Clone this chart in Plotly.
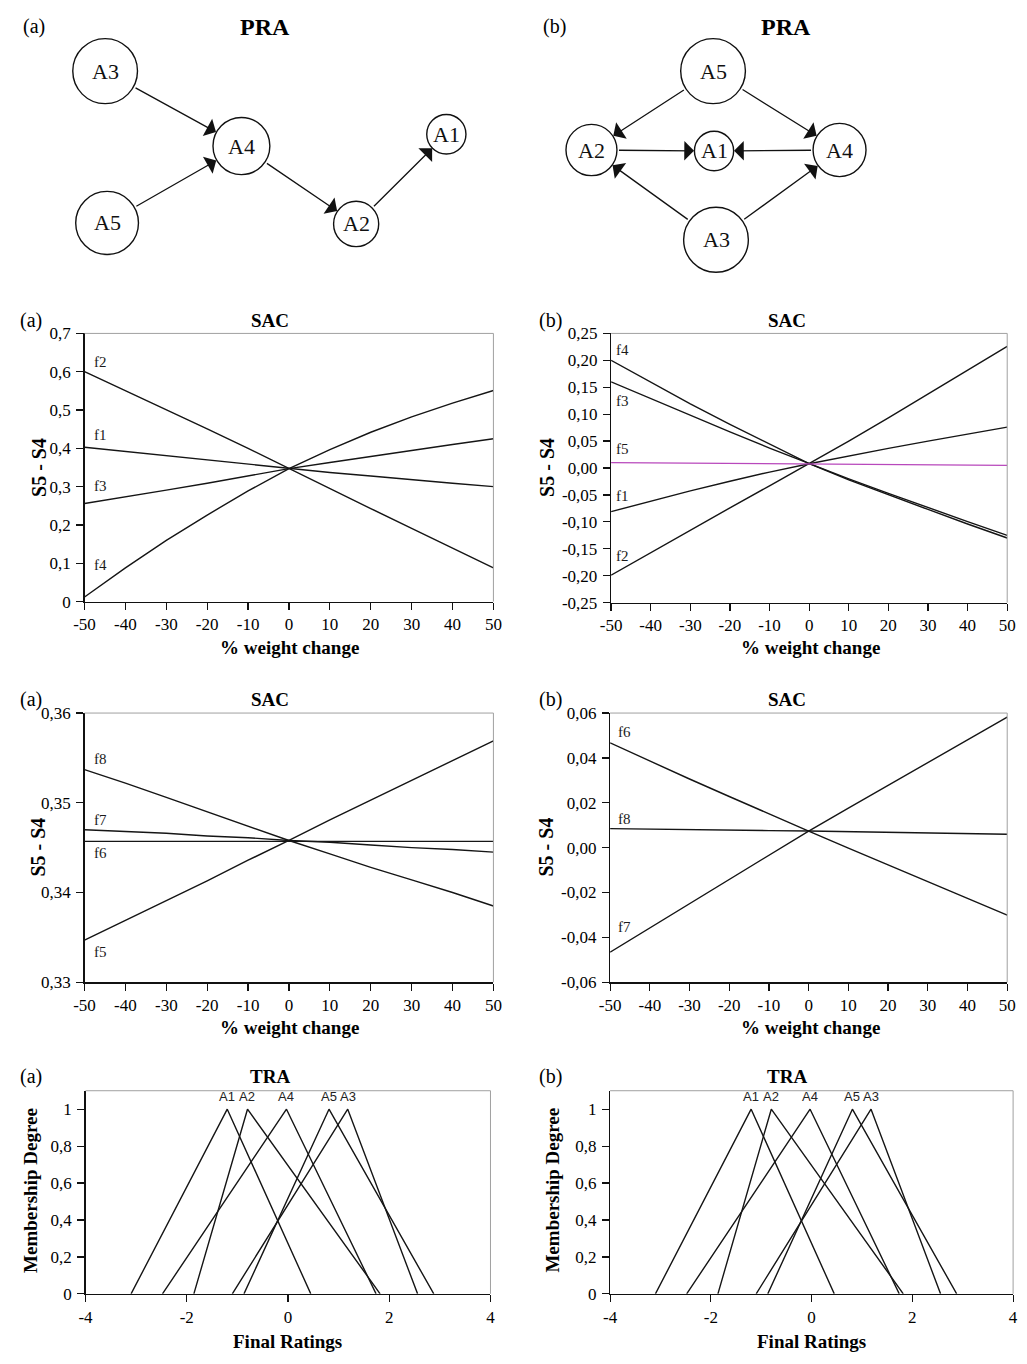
import plotly.graph_objects as go

W, H = 1027, 1364
SERIF = "Liberation Serif, Times New Roman, serif"
SANS = "Liberation Sans, Arial, sans-serif"
INK = "#151515"
MAGENTA = "#b848bc"

# ------------------------------------------------------------------ data
# PRA graphs (node layout of the precedence diagrams, in picture pixels)
pra_a_nodes = ["A3", "A4", "A5", "A2", "A1"]
pra_a_x = [96, 235, 98, 352, 444]
pra_a_y = [63, 139, 217, 218, 127]
pra_a_r = [33, 29, 32, 23, 20]
pra_a_edges = [("A3", "A4"), ("A5", "A4"), ("A4", "A2"), ("A2", "A1")]

pra_b_nodes = ["A5", "A2", "A1", "A4", "A3"]
pra_b_x = [716, 592, 717, 845, 719]
pra_b_y = [63, 143, 144, 143, 234]
pra_b_r = [33, 26, 20, 27, 33]
pra_b_edges = [("A5", "A2"), ("A5", "A4"), ("A2", "A1"), ("A4", "A1"),
               ("A3", "A2"), ("A3", "A4")]

# SAC sensitivity curves
weight_change = [-50, -40, -30, -20, -10, 0, 10, 20, 30, 40, 50]
weight_ticks = [-50, -40, -30, -20, -10, 0, 10, 20, 30, 40, 50]
weight_ticktext = ["-50", "-40", "-30", "-20", "-10", "0", "10", "20", "30", "40", "50"]

sac1a_f1 = [0.403, 0.392, 0.380, 0.369, 0.358, 0.347, 0.337, 0.328, 0.318, 0.309, 0.300]
sac1a_f2 = [0.600, 0.551, 0.501, 0.451, 0.400, 0.347, 0.295, 0.243, 0.191, 0.139, 0.088]
sac1a_f3 = [0.256, 0.273, 0.291, 0.309, 0.328, 0.347, 0.363, 0.379, 0.394, 0.410, 0.425]
sac1a_f4 = [0.012, 0.088, 0.160, 0.226, 0.289, 0.347, 0.397, 0.442, 0.482, 0.518, 0.551]
sac1a_ticks = [0, 0.1, 0.2, 0.3, 0.4, 0.5, 0.6, 0.7]
sac1a_ticktext = ["0", "0,1", "0,2", "0,3", "0,4", "0,5", "0,6", "0,7"]

sac1b_f1 = [-0.081, -0.0615, -0.0425, -0.0245, -0.0075, 0.008, 0.0225, 0.0365, 0.050, 0.063, 0.076]
sac1b_f2 = [-0.199, -0.157, -0.116, -0.074, -0.033, 0.008, 0.050, 0.093, 0.137, 0.181, 0.226]
sac1b_f3 = [0.160, 0.1285, 0.0975, 0.067, 0.037, 0.008, -0.020, -0.047, -0.0735, -0.0995, -0.125]
sac1b_f4 = [0.200, 0.159, 0.119, 0.081, 0.044, 0.008, -0.022, -0.050, -0.077, -0.104, -0.130]
sac1b_f5 = [0.010, 0.0095, 0.009, 0.0085, 0.008, 0.0078, 0.0072, 0.0068, 0.0062, 0.0057, 0.005]
sac1b_ticks = [-0.25, -0.2, -0.15, -0.1, -0.05, 0, 0.05, 0.1, 0.15, 0.2, 0.25]
sac1b_ticktext = ["-0,25", "-0,20", "-0,15", "-0,10", "-0,05", "0,00",
                  "0,05", "0,10", "0,15", "0,20", "0,25"]

sac2a_f5 = [0.3347, 0.3369, 0.3391, 0.3413, 0.3436, 0.3458, 0.3481, 0.3503, 0.3525, 0.3547, 0.3569]
sac2a_f6 = [0.3457, 0.3457, 0.3457, 0.3457, 0.3457, 0.3457, 0.3457, 0.3457, 0.3457, 0.3457, 0.3457]
sac2a_f7 = [0.3470, 0.3468, 0.3466, 0.3463, 0.3461, 0.3458, 0.3456, 0.3453, 0.3450, 0.3448, 0.3445]
sac2a_f8 = [0.3537, 0.3522, 0.3506, 0.3490, 0.3474, 0.3458, 0.3443, 0.3428, 0.3414, 0.3400, 0.3385]
sac2a_ticks = [0.33, 0.34, 0.35, 0.36]
sac2a_ticktext = ["0,33", "0,34", "0,35", "0,36"]

sac2b_f6 = [0.0467, 0.0386, 0.0306, 0.0228, 0.0150, 0.0074, -0.0002, -0.0077, -0.0153, -0.0227, -0.0301]
sac2b_f7 = [-0.0466, -0.0358, -0.0250, -0.0142, -0.0034, 0.0074, 0.0176, 0.0278, 0.0380, 0.0481, 0.0582]
sac2b_f8 = [0.0085, 0.0082, 0.0080, 0.0078, 0.0076, 0.0074, 0.0071, 0.0068, 0.0065, 0.0062, 0.0060]
sac2b_ticks = [-0.06, -0.04, -0.02, 0, 0.02, 0.04, 0.06]
sac2b_ticktext = ["-0,06", "-0,04", "-0,02", "0,00", "0,02", "0,04", "0,06"]

# TRA triangular fuzzy final ratings
tra_names = ["A1", "A2", "A4", "A5", "A3"]
tra_low = [-3.10, -1.86, -2.48, -0.87, -1.10]
tra_peak = [-1.20, -0.80, -0.03, 0.81, 1.18]
tra_high = [0.45, 1.82, 1.74, 2.88, 2.56]
tra_membership = [0, 1, 0]
tra_xticks = [-4, -2, 0, 2, 4]
tra_xticktext = ["-4", "-2", "0", "2", "4"]
tra_yticks = [0, 0.2, 0.4, 0.6, 0.8, 1.0]
tra_yticktext = ["0", "0,2", "0,4", "0,6", "0,8", "1"]

# ------------------------------------------------------------------ layout helpers
def dx(l, r):
    return [l / W, r / W]

def dy(t, b):
    return [1 - b / H, 1 - t / H]

def px(x):
    return x / W

def py(y):
    return 1 - y / H

fig = go.Figure()
annotations = []
shapes = []
layout = dict(width=W, height=H, margin=dict(l=0, r=0, t=0, b=0),
              paper_bgcolor="white", plot_bgcolor="white", showlegend=False)

TICKFONT = dict(family=SERIF, size=17, color="#000")

# panel boxes (pixels): id, x-left, x-right, y-top, y-bottom
panels = {
    1: (75, 492, 329, 601),
    2: (612, 1016, 329, 602),
    3: (75, 492, 714, 987),
    4: (611, 1016, 714, 987),
    5: (76, 489, 1097, 1303),
    6: (611, 1022, 1097, 1303),
}

def axis_names(i):
    return ("xaxis" if i == 1 else f"xaxis{i}", "yaxis" if i == 1 else f"yaxis{i}",
            "x" if i == 1 else f"x{i}", "y" if i == 1 else f"y{i}")

def setup_axes(i, xrange_, xticks, xtext, yrange_, yticks, ytext):
    xa, ya, xr, yr = axis_names(i)
    l, r, t, b = panels[i]
    common = dict(showgrid=False, zeroline=False, showline=True, linecolor="#111",
                  linewidth=1.3, ticks="outside", ticklen=7, tickwidth=1.2,
                  tickcolor="#111", tickfont=TICKFONT, tickmode="array", fixedrange=True)
    layout[xa] = dict(domain=dx(l, r), anchor=yr, range=xrange_, tickvals=xticks,
                      ticktext=xtext, **common)
    layout[ya] = dict(domain=dy(t, b), anchor=xr, range=yrange_, tickvals=yticks,
                      ticktext=ytext, ticklabelstandoff=2, **common)
    # light grey top/right frame
    shapes.append(dict(type="line", xref=f"{xr} domain", yref=f"{yr} domain",
                       x0=0, x1=1, y0=1, y1=1, line=dict(color="#a0a0a0", width=1)))
    shapes.append(dict(type="line", xref=f"{xr} domain", yref=f"{yr} domain",
                       x0=1, x1=1, y0=0, y1=1, line=dict(color="#a0a0a0", width=1)))

def add_line(i, x, y, color=INK):
    _, _, xr, yr = axis_names(i)
    fig.add_trace(go.Scatter(x=x, y=y, xaxis=xr, yaxis=yr, mode="lines",
                             line=dict(color=color, width=1.4), hoverinfo="skip"))

def flabel(i, text, yval, yshift, xshift):
    _, _, xr, yr = axis_names(i)
    annotations.append(dict(text=text, x=weight_change[0], y=yval, xref=xr, yref=yr,
                            xanchor="left", yanchor="middle", xshift=xshift, yshift=yshift,
                            showarrow=False, font=dict(family=SERIF, size=15, color="#1a1a1a")))

def txt(text, x, y, size, bold=False, family=SERIF, angle=0):
    annotations.append(dict(text=f"<b>{text}</b>" if bold else text, x=px(x), y=py(y),
                            xref="paper", yref="paper", xanchor="center", yanchor="middle",
                            showarrow=False, textangle=angle,
                            font=dict(family=family, size=size, color="#000")))

# ------------------------------------------------------------------ SAC panels
setup_axes(1, [-50, 50], weight_ticks, weight_ticktext, [0, 0.7], sac1a_ticks, sac1a_ticktext)
for ys, name, sh in [(sac1a_f2, "f2", 10), (sac1a_f1, "f1", 12),
                     (sac1a_f3, "f3", 18), (sac1a_f4, "f4", 32)]:
    add_line(1, weight_change, ys)
    flabel(1, name, ys[0], sh, 7)

setup_axes(2, [-50, 50], weight_ticks, weight_ticktext, [-0.25, 0.25], sac1b_ticks, sac1b_ticktext)
for ys, name, sh, col in [(sac1b_f4, "f4", 10, INK), (sac1b_f3, "f3", -19, INK),
                          (sac1b_f1, "f1", 16, INK), (sac1b_f2, "f2", 19, INK),
                          (sac1b_f5, "f5", 14, MAGENTA)]:
    add_line(2, weight_change, ys, col)
    flabel(2, name, ys[0], sh, 3)

setup_axes(3, [-50, 50], weight_ticks, weight_ticktext, [0.33, 0.36], sac2a_ticks, sac2a_ticktext)
for ys, name, sh in [(sac2a_f8, "f8", 11), (sac2a_f7, "f7", 10),
                     (sac2a_f6, "f6", -12), (sac2a_f5, "f5", -12)]:
    add_line(3, weight_change, ys)
    flabel(3, name, ys[0], sh, 7)

setup_axes(4, [-50, 50], weight_ticks, weight_ticktext, [-0.06, 0.06], sac2b_ticks, sac2b_ticktext)
for ys, name, sh in [(sac2b_f6, "f6", 11), (sac2b_f8, "f8", 10), (sac2b_f7, "f7", 25)]:
    add_line(4, weight_change, ys)
    flabel(4, name, ys[0], sh, 6)

# ------------------------------------------------------------------ TRA panels
for i in (5, 6):
    setup_axes(i, [-4, 4], tra_xticks, tra_xticktext, [0, 1.1], tra_yticks, tra_yticktext)
    _, _, xr, yr = axis_names(i)
    for name, lo, pk, hi in zip(tra_names, tra_low, tra_peak, tra_high):
        add_line(i, [lo, pk, hi], tra_membership)
        annotations.append(dict(text=name, x=pk, y=max(tra_membership), xref=xr, yref=yr,
                                xanchor="center", yanchor="bottom", yshift=3, showarrow=False,
                                font=dict(family=SANS, size=13, color="#222")))

# ------------------------------------------------------------------ PRA graphs (pixel axes)
layout["xaxis7"] = dict(domain=[0, 1], range=[0, W], visible=False, anchor="y7", fixedrange=True)
layout["yaxis7"] = dict(domain=dy(0, 270), range=[270, 0], visible=False, anchor="x7", fixedrange=True)
fig.add_trace(go.Scatter(x=[0], y=[0], xaxis="x7", yaxis="y7", mode="markers",
                         marker=dict(opacity=0), hoverinfo="skip"))

def draw_graph(nodes, xs, ys, rs, edges):
    idx = {n: k for k, n in enumerate(nodes)}
    for n, x, y, r in zip(nodes, xs, ys, rs):
        shapes.append(dict(type="circle", xref="x7", yref="y7", x0=x - r, x1=x + r,
                           y0=y - r, y1=y + r, line=dict(color="#111", width=1.4),
                           fillcolor="white", layer="above"))
        annotations.append(dict(text=n, x=x, y=y, xref="x7", yref="y7", showarrow=False,
                                xanchor="center", yanchor="middle",
                                font=dict(family=SERIF, size=22, color="#111")))
    for s, t in edges:
        a, b = idx[s], idx[t]
        annotations.append(dict(text="", x=xs[b], y=ys[b], ax=xs[a], ay=ys[a],
                                xref="x7", yref="y7", axref="x7", ayref="y7",
                                showarrow=True, arrowhead=1, arrowsize=2.5, arrowwidth=1.3,
                                arrowcolor="#111", standoff=rs[b], startstandoff=rs[a]))

draw_graph(pra_a_nodes, pra_a_x, pra_a_y, pra_a_r, pra_a_edges)
draw_graph(pra_b_nodes, pra_b_x, pra_b_y, pra_b_r, pra_b_edges)

# ------------------------------------------------------------------ titles and axis titles
for lab, x in (("(a)", 23), ("(b)", 554)):
    txt(lab, x, 18, 20)
txt("PRA", 259, 18, 24, bold=True)
txt("PRA", 790, 18, 24, bold=True)

for yrow, title in ((316, "SAC"), (700, "SAC"), (1083, "TRA")):
    txt("(a)", 20, yrow, 20)
    txt("(b)", 550, yrow, 20)
    txt(title, 264, yrow, 19, bold=True)
    txt(title, 791, yrow, 19, bold=True)

for yrow in (648, 1033):
    txt("% weight change", 284, yrow, 19, bold=True)
    txt("% weight change", 815, yrow, 19, bold=True)
txt("Final Ratings", 282, 1351, 19, bold=True)
txt("Final Ratings", 816, 1351, 19, bold=True)

for yc in (465, 850):
    txt("S5 - S4", 28, yc, 20, bold=True, angle=-90)
    txt("S5 - S4", 546, yc, 20, bold=True, angle=-90)
txt("Membership Degree", 20, 1198, 19, bold=True, angle=-90)
txt("Membership Degree", 552, 1198, 19, bold=True, angle=-90)

layout["annotations"] = annotations
layout["shapes"] = shapes
fig.update_layout(**layout)
fig.update_traces(showlegend=False)

fig.write_html("out.html", include_plotlyjs=True,
               config={"displayModeBar": False, "staticPlot": True},
               post_script="document.body.style.margin='0';")
